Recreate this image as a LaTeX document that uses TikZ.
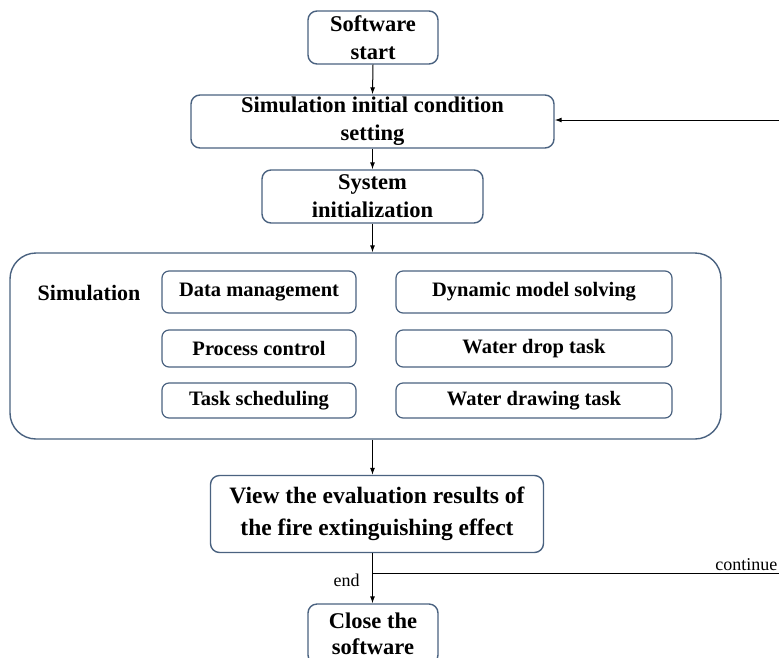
\documentclass[tikz,border=0pt]{standalone}
\usepackage{fontspec}
\setmainfont{Liberation Serif}
\usetikzlibrary{arrows.meta}
\definecolor{boxline}{RGB}{74,98,128}
\tikzset{
  flowbox/.style={draw=boxline, line width=1.4pt, rounded corners=9pt, fill=white,
    align=center, inner sep=0pt, font=\fontsize{22.5}{28}\selectfont\bfseries},
  subbox/.style={draw=boxline, line width=1.2pt, rounded corners=7pt, fill=white,
    align=center, inner sep=0pt, font=\fontsize{20.5}{24}\selectfont\bfseries},
  flow/.style={line width=1pt, -{Latex[length=7pt,width=5pt]}},
  plain/.style={line width=1pt},
  note/.style={font=\fontsize{18}{20}\selectfont}
}
\begin{document}
\begin{tikzpicture}[x=1pt,y=-1pt]
\useasboundingbox (0,0) rectangle (779,657);

% main sequence
\node[flowbox, minimum width=130, minimum height=53] (start) at (373,37.5) {Software\\start};
\node[flowbox, minimum width=363, minimum height=53] (init) at (372.5,121.5) {Simulation initial condition\\setting};
\node[flowbox, minimum width=221, minimum height=53] (sys) at (372.5,196.5) {System\\initialization};

% simulation container and its modules
\node[draw=boxline, line width=1.4pt, rounded corners=26pt, minimum width=711, minimum height=186, inner sep=0pt] (sim) at (365.5,346) {};
\node[font=\fontsize{22}{26}\selectfont\bfseries] (simlbl) at (89,293) {Simulation};
\node[subbox, minimum width=194, minimum height=42] (data) at (259,292) {Data management};
\node[subbox, minimum width=194, minimum height=37] (proc) at (259,348.5) {Process control};
\node[subbox, minimum width=194, minimum height=35] (sched) at (259,400.5) {Task scheduling};
\node[subbox, minimum width=276, minimum height=42] (dyn) at (534,292) {Dynamic model solving};
\node[subbox, minimum width=276, minimum height=37] (drop) at (534,348.5) {Water drop task};
\node[subbox, minimum width=276, minimum height=35] (draw) at (534,400.5) {Water drawing task};

% evaluation and closing
\node[flowbox, minimum width=333, minimum height=77, font=\fontsize{23.5}{32}\selectfont\bfseries] (view) at (377,514) {View the evaluation results of\\the fire extinguishing effect};
\node[flowbox, minimum width=130, minimum height=60, font=\fontsize{22.5}{26}\selectfont\bfseries] (close) at (373,634) {Close the\\software};

% connectors
\draw[flow] (start.south) -- (init.north);
\draw[flow] (init.south) -- (sys.north);
\draw[flow] (sys.south) -- (sys.south |- sim.north);
\draw[flow] (sim.south -| sys.south) -- (sys.south |- view.north);
\coordinate (branch) at (372.5,573);
\coordinate (outer) at (781,573);
\coordinate (back) at (781,120);
\draw[flow] (sys.south |- view.south) -- (sys.south |- close.north)
  node[note, pos=0.55, left=9pt] (endlbl) {end};
\draw[plain] (branch) -- (outer) node[note, pos=0.915, above=-1pt] (contlbl) {continue};
\draw[flow] (outer) -- (back) -- (init.east |- back);
\end{tikzpicture}
\end{document}
